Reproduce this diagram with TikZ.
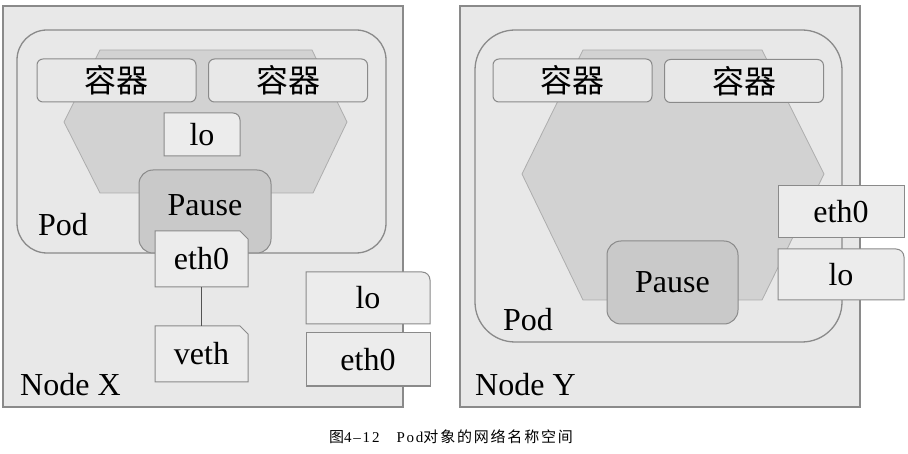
\documentclass[tikz,border=0pt]{standalone}
\usepackage{fontspec}
\setmainfont{Liberation Serif}
\newfontfamily\cjk{Noto Sans CJK SC}
\newfontfamily\capcjk[LetterSpace=12]{Noto Sans CJK SC}
\newfontfamily\caplat[LetterSpace=12]{Liberation Serif}
\definecolor{nodebg}{HTML}{E8E8E8}
\definecolor{hexbg}{HTML}{D2D2D2}
\definecolor{pausebg}{HTML}{C9C9C9}
\definecolor{ifbg}{HTML}{ECECEC}
\definecolor{edge}{HTML}{8A8A8A}
\begin{document}
\begin{tikzpicture}[x=1pt,y=-1pt,
  frame/.style={draw=edge, line width=1.3pt, fill=nodebg},
  hexa/.style={draw=edge!70, line width=0.8pt, fill=hexbg},
  ctr/.style={rectangle, rounded corners=6pt, draw=edge, line width=1pt, fill=nodebg, inner sep=0pt, minimum width=159pt, minimum height=43pt, font=\cjk\fontsize{32}{36}\selectfont},
  pausebox/.style={rectangle, rounded corners=14pt, draw=edge, line width=1pt, fill=pausebg, inner sep=0pt, minimum width=132pt, minimum height=83pt, font=\fontsize{32}{36}\selectfont},
  ifpath/.style={draw=edge, line width=1pt, fill=ifbg},
  iftext/.style={inner sep=0pt, font=\fontsize{32}{36}\selectfont},
  tag/.style={inner sep=0pt, anchor=west, font=\fontsize{32}{36}\selectfont}]
\useasboundingbox[fill=white] (0,0) rectangle (908,454);

% Node X
\draw[frame] (3,6) rectangle (403,407);
\draw[frame, rounded corners=30pt] (17,30) rectangle (386,253);
\draw[hexa] (100,50) -- (312,50) -- (347,122) -- (313,193) -- (100,193) -- (64,122) -- cycle;
\node[ctr] (ctrx1) at (116.5,80.5){容器};
\node[ctr] (ctrx2) at (288,80.5){容器};
\draw[ifpath] (164,156) -- (164,113) -- (233,113) arc[start angle=90, end angle=0, radius=7pt] -- (240,156) -- cycle;
\node[iftext] (lox) at (202,134.5){lo};
\node[pausebox, text depth=13pt] (pausex) at (205,211.5){Pause};
\draw[ifpath] (155,287) -- (155,231) -- (240,231) -- (248,239) -- (248,287) -- cycle;
\node[iftext, minimum width=93pt, minimum height=56pt] (ethx) at (201.5,259){eth0};
\draw[ifpath] (155,382) -- (155,326) -- (240,326) -- (248,334) -- (248,382) -- cycle;
\node[iftext, minimum width=93pt, minimum height=56pt] (vethx) at (201.5,354){veth};
\draw[draw=edge!60!black, line width=1pt] (ethx) -- (vethx);
\draw[ifpath] (306,324) -- (306,272) -- (422,272) arc[start angle=90, end angle=0, radius=8pt] -- (430,324) -- cycle;
\node[iftext] (hostlox) at (368,298){lo};
\draw[ifpath] (306,333) rectangle (430,386);
\node[iftext] (hostethx) at (368,359.5){eth0};
\node[tag] (podx) at (38,225){Pod};
\node[tag] (nodex) at (20,385){Node X};

% Node Y
\draw[frame] (460,6) rectangle (860,407);
\draw[frame, rounded corners=40pt] (475,30) rectangle (842,342);
\draw[hexa] (583,50) -- (762,50) -- (824,174) -- (762,300) -- (583,300) -- (522,174) -- cycle;
\node[ctr] (ctry1) at (572.5,80.5){容器};
\node[ctr] (ctry2) at (744,81){容器};
\node[pausebox, minimum width=131pt] (pausey) at (672.5,282.5){Pause};
\draw[ifpath] (778,186) rectangle (904,238);
\node[iftext] (ethy) at (841,212){eth0};
\draw[ifpath] (778,300) -- (778,249) -- (896,249) arc[start angle=90, end angle=0, radius=8pt] -- (904,300) -- cycle;
\node[iftext] (loy) at (841,274.5){lo};
\node[tag] (pody) at (503,320){Pod};
\node[tag] (nodey) at (475,385){Node Y};

% caption
\node[inner sep=0pt, font=\fontsize{15}{17}\selectfont] (caption) at (451,437){{\capcjk 图}{\caplat 4–12}\hspace{17pt}{\caplat Pod}{\capcjk 对象的网络名称空间}};
\end{tikzpicture}
\end{document}
